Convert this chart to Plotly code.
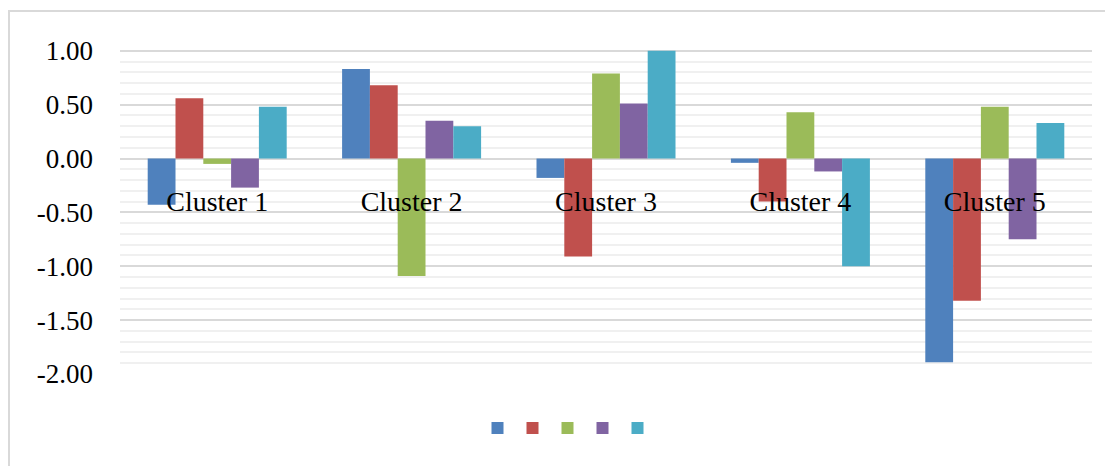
import plotly.graph_objects as go

categories = ["Cluster 1", "Cluster 2", "Cluster 3", "Cluster 4", "Cluster 5"]
series_1 = [-0.43, 0.83, -0.18, -0.04, -1.89]
series_2 = [0.56, 0.68, -0.91, -0.40, -1.32]
series_3 = [-0.05, -1.09, 0.79, 0.43, 0.48]
series_4 = [-0.27, 0.35, 0.51, -0.12, -0.75]
series_5 = [0.48, 0.30, 1.00, -1.00, 0.33]
series_names = ["", "", "", "", ""]
colors = ["#4F81BD", "#C0504D", "#9BBB59", "#8064A2", "#4BACC6"]

y_tickvals = [1.0, 0.5, 0.0, -0.5, -1.0, -1.5, -2.0]
y_ticktext = ["1.00", "0.50", "0.00", "-0.50", "-1.00", "-1.50", "-2.00"]
y_range = [-2.0, 1.1]

FONT = "Liberation Serif"
W, H = 1105, 458
ML, MR, MT, MB = 112, 21, 32, 92
PW = W - ML - MR
PH = H - MT - MB

legend_ids = ["legend", "legend2", "legend3", "legend4", "legend5"]
legend_centers_px = [500, 535, 570, 605, 640]

fig = go.Figure()
for vals, name, col, lid in zip([series_1, series_2, series_3, series_4, series_5],
                                series_names, colors, legend_ids):
    fig.add_trace(go.Bar(x=categories, y=vals, name=name, legend=lid,
                         marker=dict(color=col, line=dict(width=0))))

zero_pos = (0 - y_range[0]) / (y_range[1] - y_range[0])

legends = {}
for lid, cx in zip(legend_ids, legend_centers_px):
    legends[lid] = dict(orientation="h", x=(cx - 8 - ML) / PW, xanchor="center",
                        y=-0.162, yanchor="middle", font=dict(size=12),
                        itemwidth=30, bgcolor="rgba(0,0,0,0)")

fig.update_layout(
    width=W, height=H,
    margin=dict(l=ML, r=MR, t=MT, b=MB),
    paper_bgcolor="white", plot_bgcolor="white",
    barmode="group", bargap=0.285, bargroupgap=0,
    font=dict(family=FONT, size=27, color="black"),
    showlegend=True,
    xaxis=dict(anchor="free", position=zero_pos, showline=False, showgrid=False,
               ticks="", ticklabelstandoff=23, tickfont=dict(family=FONT, size=28)),
    yaxis=dict(range=y_range, tickvals=y_tickvals, ticktext=y_ticktext,
               showgrid=True, gridcolor="#d9d9d9", gridwidth=1.5,
               zeroline=True, zerolinecolor="#d9d9d9", zerolinewidth=2,
               showline=False, ticks="", ticklabelstandoff=26,
               tickfont=dict(family=FONT, size=27),
               minor=dict(dtick=0.1, tick0=0, showgrid=True, gridcolor="#f0f0f0", gridwidth=1.5)),
    shapes=[dict(type="rect", xref="paper", yref="paper",
                 x0=(9 - 8 - ML) / PW, x1=1.2, y0=-0.5, y1=1 + (MT + 8 - 11) / PH,
                 line=dict(color="#d9d9d9", width=2), fillcolor="rgba(0,0,0,0)", layer="below")],
    **legends,
)

fig.write_html("out.html")
